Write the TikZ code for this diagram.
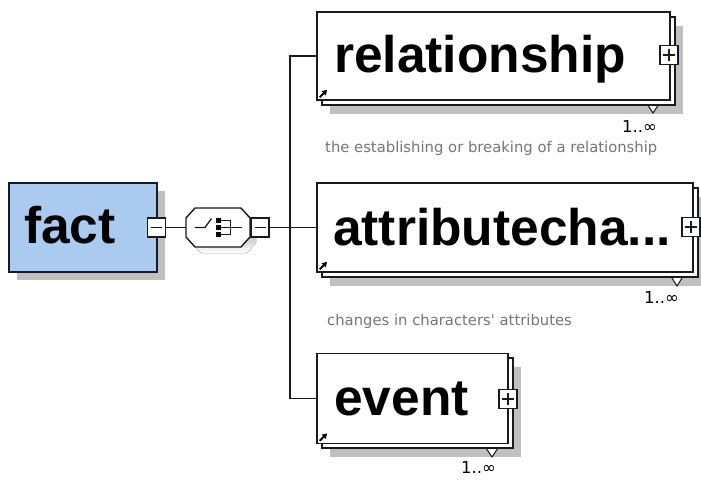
\documentclass[tikz,border=0pt]{standalone}
\usepackage{fontspec}
\setmainfont{Liberation Sans}
\newfontfamily\descfont{DejaVu Sans}
\usetikzlibrary{arrows.meta,calc}
\definecolor{factblue}{RGB}{170,202,240}
\definecolor{shade}{RGB}{192,192,192}
\definecolor{desc}{RGB}{118,118,118}
\definecolor{edge}{RGB}{25,25,35}
\tikzset{
  frontbox/.style={rectangle, draw=edge, fill=white, line width=1.6pt, inner sep=0},
  shadowbox/.style={rectangle, fill=shade, draw=none, inner sep=0},
  title/.style={font=\fontsize{51.5}{52}\selectfont\bfseries, anchor=base west, inner sep=0},
  desctext/.style={font=\descfont\fontsize{14.8}{15}\selectfont, text=desc, anchor=base west, inner sep=0},
  cardtext/.style={font=\descfont\fontsize{16.5}{17}\selectfont, text=black, anchor=base west, inner sep=0},
  pmbox/.style={rectangle, draw=edge, fill=white, line width=1.3pt, minimum width=18pt, minimum height=19pt, inner sep=0},
  pmline/.style={draw=edge, line width=1.3pt},
  conn/.style={draw=edge, line width=1.5pt},
  cardtri/.style={draw=edge, fill=white, line width=1pt},
  refarrow/.style={draw=black, line width=1.8pt, -{Triangle[length=5pt,width=5.5pt]}},
}
\begin{document}
\begin{tikzpicture}[x=1pt,y=-1pt]
\useasboundingbox (0,0) rectangle (701,479);
\fill[white] (0,0) rectangle (701,479);

% ---------- fact ----------
\node[shadowbox, minimum width=148pt, minimum height=89pt] (factsh) at (91,235.5) {};
\node[rectangle, draw=edge, fill=factblue, line width=1.6pt, inner sep=0,
      minimum width=148pt, minimum height=89pt] (fact) at (83,227.5) {};
\node[title] (factlbl) at (24,243) {fact};
\node[pmbox] (fm) at (156.5,227.5) {};
\draw[pmline] ($(fm.center)+(-5.5,0)$) -- ($(fm.center)+(5.5,0)$);

% ---------- sequence compositor ----------
\fill[shade] (201,214) -- (247,214) -- (256,224) -- (256,243) -- (247,253) -- (201,253) -- (192,243) -- (192,224) -- cycle;
\node[inner sep=0, minimum width=64pt, minimum height=39pt] (seq) at (218,227.5) {};
\draw[edge, fill=white, line width=1.4pt]
  (195,208) -- (241,208) -- (250,218) -- (250,237) -- (241,247) -- (195,247) -- (186,237) -- (186,218) -- cycle;
\draw[edge, line width=1.3pt] (195,227.5) -- (205,227.5) -- (211.5,218.5);
\fill[black] (216,218) rectangle (221,223);
\fill[black] (216,225) rectangle (221,230);
\fill[black] (216,232) rectangle (221,237);
\draw[edge, line width=1.3pt] (221,220.5) -- (230.5,220.5) -- (230.5,234.5) -- (221,234.5);
\draw[edge, line width=1.3pt] (221,227.5) -- (241.5,227.5);
\node[pmbox] (sm) at (260,227.5) {};
\draw[pmline] ($(sm.center)+(-5.5,0)$) -- ($(sm.center)+(5.5,0)$);

% ---------- relationship ----------
\node[shadowbox, minimum width=353pt, minimum height=88pt] (relsh) at (506.5,70) {};
\draw[cardtri] (643,98) -- (663,98) -- (653,113) -- cycle;
\node[frontbox, minimum width=353pt, minimum height=88pt] (relbk) at (498.5,61) {};
\node[frontbox, minimum width=353pt, minimum height=88pt] (rel) at (493.5,56) {};
\node[title] (rellbl) at (334,72) {relationship};
\draw[refarrow] ($(rel.south west)+(3.5,-3.5)$) -- ($(rel.south west)+(11,-11)$);
\node[pmbox] (relp) at (669,55) {};
\draw[pmline] ($(relp.center)+(-6,0)$) -- ($(relp.center)+(6,0)$);
\draw[pmline] ($(relp.center)+(0,-6)$) -- ($(relp.center)+(0,6)$);
\node[cardtext] (relcard) at (622,132) {1..∞};
\node[desctext] (reldesc) at (325,152) {the establishing or breaking of a relationship};

% ---------- attributecha... ----------
\node[shadowbox, minimum width=376pt, minimum height=89pt] (attsh) at (518,241.5) {};
\draw[cardtri] (667,270) -- (687,270) -- (677,286) -- cycle;
\node[frontbox, minimum width=376pt, minimum height=89pt] (attbk) at (510,232.5) {};
\node[frontbox, minimum width=376pt, minimum height=89pt] (att) at (505,227.5) {};
\node[title] (attlbl) at (333,245) {attributecha...};
\draw[refarrow] ($(att.south west)+(3.5,-3.5)$) -- ($(att.south west)+(11,-11)$);
\node[pmbox] (attp) at (691,227) {};
\draw[pmline] ($(attp.center)+(-6,0)$) -- ($(attp.center)+(6,0)$);
\draw[pmline] ($(attp.center)+(0,-6)$) -- ($(attp.center)+(0,6)$);
\node[cardtext] (attcard) at (644,303) {1..∞};
\node[desctext] (attdesc) at (327,325) {changes in characters' attributes};

% ---------- event ----------
\node[shadowbox, minimum width=191pt, minimum height=90pt] (evtsh) at (425.5,412) {};
\draw[cardtri] (482,442) -- (502,442) -- (492,457) -- cycle;
\node[frontbox, minimum width=191pt, minimum height=90pt] (evtbk) at (417.5,403) {};
\node[frontbox, minimum width=191pt, minimum height=90pt] (evt) at (412.5,398.5) {};
\node[title] (evtlbl) at (334,415) {event};
\draw[refarrow] ($(evt.south west)+(3.5,-3.5)$) -- ($(evt.south west)+(11,-11)$);
\node[pmbox] (evtp) at (508,399) {};
\draw[pmline] ($(evtp.center)+(-6,0)$) -- ($(evtp.center)+(6,0)$);
\draw[pmline] ($(evtp.center)+(0,-6)$) -- ($(evtp.center)+(0,6)$);
\node[cardtext] (evtcard) at (461,473) {1..∞};

% ---------- connectors ----------
\coordinate (tt) at (290,56);
\coordinate (tb) at (290,398.5);
\draw[conn] (fm.east) -- (seq.west);
\draw[conn] (seq.east) -- (sm.west);
\draw[conn] (sm.east) -- (att.west);
\draw[conn] (rel.west) -- (tt) -- (tb) -- (evt.west);
\end{tikzpicture}
\end{document}
